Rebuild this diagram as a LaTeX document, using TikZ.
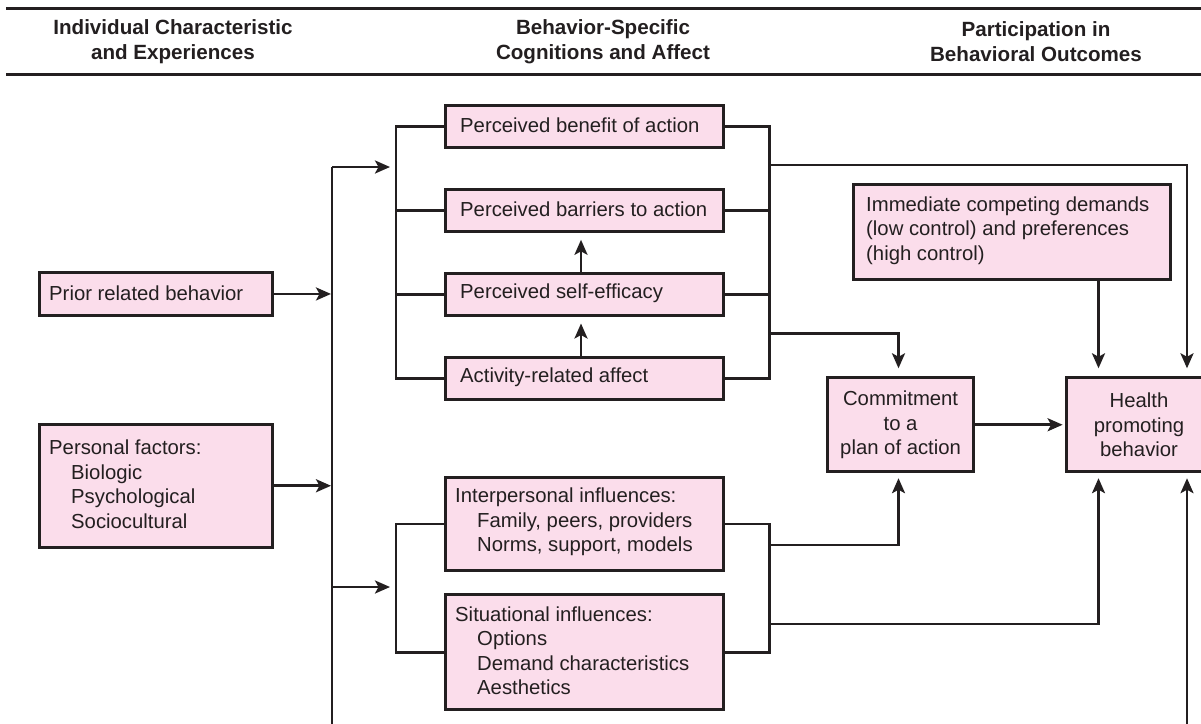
\documentclass[tikz,border=0pt]{standalone}
\usepackage{fontspec}
\setmainfont{Liberation Sans}
\usetikzlibrary{arrows.meta,calc}
\definecolor{ink}{HTML}{231F20}
\definecolor{boxpink}{HTML}{FBDDEB}
\begin{document}
\begin{tikzpicture}[x=1pt,y=-1pt,
  box/.style={draw=ink, line width=2.9pt, fill=boxpink, inner sep=0pt, anchor=north west},
  txt/.style={text=ink, font=\fontsize{20.3}{24.5}\selectfont, align=left, inner sep=0pt, anchor=west},
  ctxt/.style={text=ink, font=\fontsize{20.3}{24.5}\selectfont, align=center, inner sep=0pt},
  hdr/.style={text=ink, font=\bfseries\fontsize{20.6}{25}\selectfont, align=center, inner sep=0pt},
  rule/.style={draw=ink, line width=3pt},
  conn/.style={draw=ink, line width=2.6pt},
  arr/.style={conn, -{Stealth[length=15pt,width=13pt,inset=3.5pt]}}
]
\clip (0,0) rectangle (1201,723);
\fill[white] (0,0) rectangle (1201,723);

% header
\coordinate (rl1) at (6,8.3);
\coordinate (rr1) at (1205,8.3);
\coordinate (rl2) at (6,74);
\coordinate (rr2) at (1205,74);
\draw[rule] (rl1) -- (rr1);
\draw[rule] (rl2) -- (rr2);
\node[hdr] (h1) at (173,42) {Individual Characteristic\\and Experiences};
\node[hdr] (h2) at (603,42) {Behavior-Specific\\Cognitions and Affect};
\node[hdr] (h3) at (1036,42) {Participation in\\Behavioral Outcomes};

% boxes
\node[box, minimum width=233pt, minimum height=43.8pt] (prior) at (38,270.6) {};
\node[box, minimum width=233pt, minimum height=123.4pt] (personal) at (38,422.6) {};
\node[box, minimum width=278pt, minimum height=41.6pt] (benefit) at (444,104) {};
\node[box, minimum width=278pt, minimum height=41.6pt] (barriers) at (444,188.3) {};
\node[box, minimum width=278pt, minimum height=41.6pt] (efficacy) at (444,272) {};
\node[box, minimum width=278pt, minimum height=41.6pt] (affect) at (444,356.3) {};
\node[box, minimum width=278pt, minimum height=92.5pt] (inter) at (444,476.3) {};
\node[box, minimum width=278pt, minimum height=115pt] (situ) at (444,593.3) {};
\node[box, minimum width=316.7pt, minimum height=94.7pt] (immed) at (852,183.3) {};
\node[box, minimum width=145.7pt, minimum height=94pt] (commit) at (826.3,376.3) {};
\node[box, minimum width=146pt, minimum height=94pt] (health) at (1064.6,376.3) {};

% texts
\node[txt] (prior-t) at (49,293) {Prior related behavior};
\node[txt] (personal-t) at (49,484) {Personal factors:\\\hspace*{22pt}Biologic\\\hspace*{22pt}Psychological\\\hspace*{22pt}Sociocultural};
\node[txt] (benefit-t) at (460,125) {Perceived benefit of action};
\node[txt] (barriers-t) at (460,209.3) {Perceived barriers to action};
\node[txt] (efficacy-t) at (460,293) {Perceived self-efficacy};
\node[txt] (affect-t) at (460,377.3) {Activity-related affect};
\node[txt] (inter-t) at (455,522) {Interpersonal influences:\\\hspace*{22pt}Family, peers, providers\\\hspace*{22pt}Norms, support, models};
\node[txt] (situ-t) at (455,650.5) {Situational influences:\\\hspace*{22pt}Options\\\hspace*{22pt}Demand characteristics\\\hspace*{22pt}Aesthetics};
\node[txt] (immed-t) at (866,230.5) {Immediate competing demands\\(low control) and preferences\\(high control)};
\node[ctxt] (commit-t) at (commit.center) {Commitment\\to a\\plan of action};
\node[ctxt] (health-t) at (health.center) {Health\\promoting\\behavior};

% coordinates for connectors
\coordinate (mtop) at (332,167);
\coordinate (mbot) at (332,730);
\coordinate (lbt) at (396,167);
\coordinate (lbb) at (396,587);
\coordinate (mlow) at (332,587);
\coordinate (rbx) at (769.5,0);
\coordinate (cx) at (898.5,0);
\coordinate (hx1) at (1098.5,0);
\coordinate (hx2) at (1187,0);
\coordinate (ux) at (581,0);
\coordinate (rbot) at (1187,730);

% main trunk
\draw[conn] (mbot) -- (mtop);
\draw[arr, shorten >=6pt] (mtop) -- (lbt);
\draw[arr, shorten >=6pt] (mlow) -- (lbb);
\draw[arr, shorten >=1pt] (prior.east) -- (prior.east -| mtop);
\draw[arr, shorten >=1pt] (personal.east) -- (personal.east -| mtop);

% upper left bracket
\draw[conn] (benefit.west) -- (benefit.west -| lbt) -- (affect.west -| lbt) -- (affect.west);
\draw[conn] (barriers.west) -- (barriers.west -| lbt);
\draw[conn] (efficacy.west) -- (efficacy.west -| lbt);
% upper right bracket
\draw[conn] (benefit.east) -- (benefit.east -| rbx) -- (affect.east -| rbx) -- (affect.east);
\draw[conn] (barriers.east) -- (barriers.east -| rbx);
\draw[conn] (efficacy.east) -- (efficacy.east -| rbx);

% lower brackets
\draw[conn] (inter.west) -- (inter.west -| lbt) -- (situ.west -| lbt) -- (situ.west);
\draw[conn] (inter.east) -- (inter.east -| rbx) -- (situ.east -| rbx) -- (situ.east);

% vertical arrows between cognition boxes
\draw[arr, shorten >=7pt] (affect.north -| ux) -- (efficacy.south -| ux);
\draw[arr, shorten >=7pt] (efficacy.north -| ux) -- (barriers.south -| ux);

% outputs from upper bracket
\coordinate (o1) at (769.5,165);
\coordinate (o2) at (769.5,333.5);
\draw[arr, shorten >=8pt] (o1) -| (health.north -| hx2);
\draw[arr, shorten >=8pt] (o2) -| (commit.north -| cx);
\draw[arr, shorten >=8pt] (immed.south -| hx1) -- (health.north -| hx1);

% outputs from lower bracket
\coordinate (o3) at (769.5,545);
\coordinate (o4) at (769.5,624);
\draw[arr, shorten >=5pt] (o3) -| (commit.south -| cx);
\draw[arr, shorten >=5pt] (o4) -| (health.south -| hx1);
\draw[arr, shorten >=5pt] (rbot) -- (health.south -| hx2);

% commitment to health
\draw[arr, shorten >=2pt] (commit.east) -- (health.west);
\end{tikzpicture}
\end{document}
